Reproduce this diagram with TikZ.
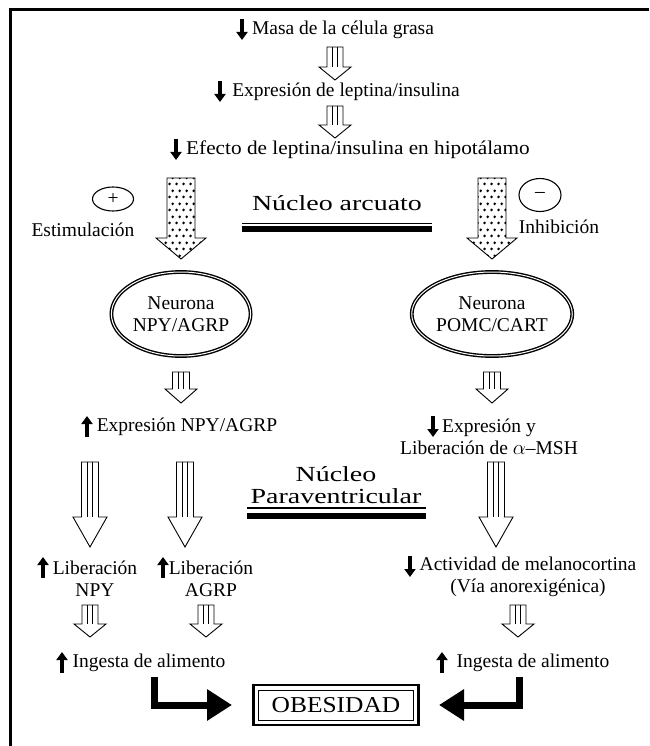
\documentclass[tikz,border=0pt]{standalone}
\usepackage{fontspec}
\setmainfont{Liberation Serif}
\newfontfamily\widefont[FakeStretch=1.3]{Liberation Serif}
\newfontfamily\boxfont[FakeStretch=1.12]{Liberation Serif}
\newfontfamily\loosefont[FakeStretch=1.09]{Liberation Serif}
\usetikzlibrary{arrows.meta, calc, shapes.geometric, patterns.meta}

% hollow block arrow: start, tip, half shaft, half head, head length
\newcommand{\blockarrow}[6][]{%
  \draw[blockline,#1] let \p1=#2, \p2=#3 in
    (\x2-#4,\y1) -- (\x2-#4,\y2+#6) -- (\x2-#5,\y2+#6) -- (\x2,\y2)
    -- (\x2+#5,\y2+#6) -- (\x2+#4,\y2+#6) -- (\x2+#4,\y1) -- cycle;
}
% same, with vertical stripes in the shaft
\newcommand{\stripedarrow}[5]{%
  \blockarrow{#1}{#2}{#3}{#4}{#5}
  \draw[stripeline] let \p1=#1, \p2=#2 in
    (\x2-#3/3,\y1) -- (\x2-#3/3,\y2+#5)
    (\x2+#3/3,\y1) -- (\x2+#3/3,\y2+#5);
}

\tikzdeclarepattern{
  name=arrowdots, type=uncolored,
  bounding box={(0pt,0pt) and (7pt,13pt)},
  tile size={(7pt,13pt)},
  code={
    \fill (1.75pt,3.25pt) circle (1.6pt);
    \fill (5.25pt,9.75pt) circle (1.6pt);
  }
}

\tikzset{
  txt/.style={inner sep=1pt, align=center, font=\fontsize{19.5}{22}\selectfont},
  heading/.style={inner sep=1pt, align=center, font=\widefont\fontsize{21.5}{22.5}\selectfont},
  neuron/.style={ellipse, draw, line width=1.4pt, double=white, double distance=1pt,
    minimum width=138pt, minimum height=84pt, txt},
  sign/.style={ellipse, draw, line width=1.1pt, txt, inner sep=0pt},
  tinyarrow/.style={line width=3.6pt, -{Triangle[length=8pt,width=11pt]}},
  blockline/.style={draw, line width=0.9pt, fill=white, line join=miter},
  stripeline/.style={line width=0.9pt},
  dotfill/.style={pattern=arrowdots, pattern color=black},
  bentarrow/.style={line width=7pt, -{Triangle[length=25pt,width=30pt]}},
  frameline/.style={line width=3pt},
}

\begin{document}
\begin{tikzpicture}[x=1pt, y=-1pt, line join=miter]
  \useasboundingbox (0,0) rectangle (649,746);

  % frame
  \draw[frameline] (10,746) -- (10,10) -- (649,10);

  % top chain
  \node[txt] (masa) at (343,30) {Masa de la célula grasa};
  \node[txt] (lept) at (346,92) {Expresión de leptina/insulina};
  \node[txt, font=\loosefont\fontsize{19.5}{22}\selectfont] (efecto) at (358,150)
    {Efecto de leptina/insulina en hipotálamo};
  \stripedarrow{($(masa)+(-8,17)$)}{($(lept)+(-11,-12)$)}{8pt}{16pt}{13pt}
  \stripedarrow{($(lept)+(-11,14)$)}{($(efecto)+(-23,-12)$)}{8pt}{16pt}{13pt}

  % arcuate nucleus
  \node[sign, minimum width=41pt, minimum height=24pt] (plus) at (113,199) {+};
  \node[txt] (estim) at (83,230) {Estimulación};
  \node[sign, minimum width=42pt, minimum height=33pt] (minus) at (540,195) {–};
  \node[txt] (inhib) at (559,227) {Inhibición};
  \node[heading] (arcuato) at (337,203) {Núcleo arcuato};
  \draw[line width=1.5pt] ($(arcuato)+(-95,20.5)$) -- ++(190,0);
  \draw[line width=6pt] ($(arcuato)+(-95,25.5)$) -- ++(190,0);

  \node[neuron] (npy) at (181,314) {Neurona\\NPY/AGRP};
  \node[neuron] (pomc) at (492,314) {Neurona\\POMC/CART};
  \blockarrow[dotfill]{($(efecto -| npy)+(0,28)$)}{($(npy)+(0,-55)$)}{14pt}{25pt}{21pt}
  \blockarrow[dotfill]{($(efecto -| pomc)+(0,28)$)}{($(pomc)+(0,-55)$)}{14pt}{25pt}{21pt}

  \node[txt] (exnpy) at (187,427) {Expresión NPY/AGRP};
  \node[txt] (exmsh) at (489,437) {Expresión y\\Liberación de $\alpha$–MSH};
  \stripedarrow{($(npy)+(0,58)$)}{($(exnpy -| npy)+(0,-24)$)}{8.5pt}{16pt}{14pt}
  \stripedarrow{($(pomc)+(0,58)$)}{($(exmsh -| pomc)+(0,-34)$)}{8.5pt}{16pt}{14pt}

  % paraventricular nucleus
  \node[heading] (para) at (336,485) {Núcleo\\Paraventricular};
  \draw[line width=2.5pt] ($(para)+(-89,23)$) -- ++(179,0);
  \draw[line width=6pt] ($(para)+(-89,30.5)$) -- ++(179,0);

  \node[txt] (libnpy) at (95,579) {Liberación\\NPY};
  \node[txt] (libagrp) at (211,579) {Liberación\\AGRP};
  \node[txt] (activ) at (528,577) {Actividad de melanocortina\\(Vía anorexigénica)};
  \stripedarrow{($(exnpy)+(-97,35)$)}{($(libnpy)+(-5,-32)$)}{8.5pt}{17pt}{30pt}
  \stripedarrow{($(exnpy)+(-2,35)$)}{($(libagrp)+(-26,-32)$)}{8.5pt}{17pt}{30pt}
  \stripedarrow{($(exmsh)+(7,25)$)}{($(activ)+(-32,-30)$)}{8.5pt}{17pt}{30pt}

  \node[txt] (ingl) at (149,663) {Ingesta de alimento};
  \node[txt] (ingr) at (533,663) {Ingesta de alimento};
  \stripedarrow{($(libnpy)+(-5,26)$)}{($(ingl)+(-59,-26)$)}{8pt}{16pt}{13pt}
  \stripedarrow{($(libagrp)+(-5,26)$)}{($(ingl)+(57,-26)$)}{8pt}{16pt}{13pt}
  \stripedarrow{($(activ)+(-10,28)$)}{($(ingr)+(-15,-26)$)}{8pt}{16pt}{13pt}

  % small up / down marks
  \foreach \x/\y in {242/30, 220/92, 176/150, 433/427, 410/567}
    \draw[tinyarrow] ({\x},{\y-11}) -- ({\x},{\y+10});
  \foreach \x/\y in {87/427, 43/568, 163/568, 62/663, 442/663}
    \draw[tinyarrow] ({\x},{\y+10}) -- ({\x},{\y-11});

  % result
  \node[draw, line width=1pt, minimum width=155pt, minimum height=30pt,
    font=\boxfont\fontsize{22.7}{24}\selectfont] (obe) at (336,705) {OBESIDAD};
  \draw[line width=2.6pt] ($(obe.south west)+(-4.5,4.5)$) rectangle ($(obe.north east)+(4.5,-4.5)$);
  \draw[bentarrow] ([xshift=5pt,yshift=-4pt]ingl.south) |- ([xshift=-26pt]obe.west);
  \draw[bentarrow] ([xshift=-14pt,yshift=-4pt]ingr.south) |- ([xshift=25pt]obe.east);
\end{tikzpicture}
\end{document}
